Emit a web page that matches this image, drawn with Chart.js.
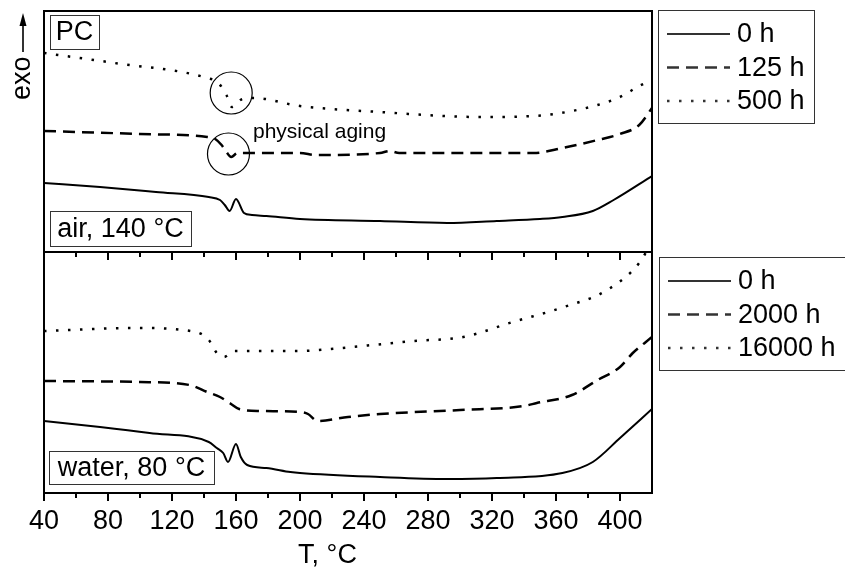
<!DOCTYPE html>
<html>
<head>
<meta charset="utf-8">
<script src="https://cdn.jsdelivr.net/npm/chart.js@4/dist/chart.umd.min.js"></script>
<style>
  html, body { margin: 0; padding: 0; background: #fff; }
</style>
</head>
<body>
<canvas id="dscChart" width="845" height="572"></canvas>
<script>
// temperature axis
var xTickValues = [40, 80, 120, 160, 200, 240, 280, 320, 360, 400];
var xMinorTicks = [60, 100, 140, 180, 220, 260, 300, 340, 380];

// air, 140 °C (heat flow, arbitrary units, exo up)
var air0T = [40, 75, 110, 143, 150, 153, 156, 160, 165, 170, 179, 200, 250, 292, 323, 350, 364, 383, 396, 420];
var air0V = [69, 65, 60, 55, 52, 47, 41, 53, 39, 37, 36, 33, 31, 29, 31, 33, 35, 41, 52, 76];
var air125T = [40, 100, 142, 147, 151, 154, 157, 161, 166, 200, 210, 250, 256, 262, 312, 346, 364, 386, 400, 412, 420];
var air125V = [121, 118, 115, 113, 107, 100, 95, 99, 99, 99, 97, 99, 101, 99, 99, 99, 104, 112, 118, 127, 144];
var air500T = [40, 84, 142, 149, 154, 157.5, 164, 171, 200, 250, 312, 354, 370, 386, 400, 412, 420];
var air500V = [199, 189, 174, 169, 157, 145, 153, 154, 146, 140, 135, 137, 141, 147, 155, 166, 172];

// water, 80 °C
var water0T = [40, 75, 106, 143, 148, 152, 155, 160, 163, 167, 179, 194, 200, 250, 292, 323, 364, 383, 400, 420];
var water0V = [72, 66, 60, 51, 45, 40, 31, 49, 36, 28, 25, 21, 20, 16, 14, 15, 20, 31, 55, 84];
var water2000T = [40, 100, 131, 142, 150, 156, 162, 175, 200, 205, 211, 230, 250, 300, 340, 348, 370, 386, 400, 408, 420];
var water2000V = [112, 111, 108, 101, 96, 90, 84, 82, 81, 79, 72, 76, 79, 83, 87, 90, 98, 113, 126, 140, 156];
var water16000T = [40, 98, 135, 143, 148, 152.5, 159, 200, 219, 271, 302, 333, 365, 392, 412.5, 420];
var water16000V = [162, 165, 161, 153, 140, 136, 142, 142, 144, 152, 156, 171, 186, 203, 231, 252];

var FONT = "'Liberation Sans', Arial, sans-serif";
var SOLID = [], DASHED = [12, 7], DOTTED = [2.5, 9.5];

function pts(t, v) {
    return t.map((x, i) => ({x: x, y: v[i]}));
}

function series(label, t, v, dash, axis, group) {
    return {
        label: label,
        data: pts(t, v),
        yAxisID: axis,
        group: group,
        borderColor: '#000',
        borderWidth: dash.length ? 2.5 : 2,
        borderDash: dash,
        pointRadius: 0,
        cubicInterpolationMode: 'monotone',
        fill: false
    };
}

function textBox(ctx, txt, l, t, r, b) {
    ctx.lineWidth = 1;
    ctx.strokeStyle = '#333';
    ctx.strokeRect(l + 0.5, t + 0.5, r - l, b - t);
    ctx.fillStyle = '#000';
    ctx.textAlign = 'center';
    ctx.textBaseline = 'middle';
    ctx.fillText(txt, (l + r) / 2, (t + b) / 2 + 1);
}

function drawLegend(chart, group, l, t, r, b) {
    var ctx = chart.ctx;
    ctx.lineWidth = 1;
    ctx.strokeStyle = '#333';
    ctx.strokeRect(l + 0.5, t + 0.5, r - l, b - t);
    var rows = chart.data.datasets.filter(d => d.group === group);
    rows.forEach((d, i) => {
        var y = t + 24 + i * 33.5;
        ctx.save();
        ctx.lineWidth = d.borderWidth;
        ctx.setLineDash(d.borderDash);
        ctx.beginPath();
        ctx.moveTo(l + 9, y);
        ctx.lineTo(l + 72, y);
        ctx.stroke();
        ctx.restore();
        ctx.fillStyle = '#000';
        ctx.textAlign = 'left';
        ctx.textBaseline = 'middle';
        ctx.fillText(d.label, l + 79, y + 1);
    });
}

var panelDecor = {
    id: 'panelDecor',
    afterDraw(chart) {
        var ctx = chart.ctx, a = chart.chartArea, x = chart.scales.x, yAir = chart.scales.yAir;
        var mid = yAir.bottom;
        ctx.save();
        ctx.strokeStyle = '#000';
        ctx.fillStyle = '#000';
        ctx.lineWidth = 2;
        ctx.strokeRect(a.left, a.top, a.right - a.left, a.bottom - a.top);
        ctx.beginPath();
        ctx.moveTo(a.left, mid);
        ctx.lineTo(a.right, mid);
        xTickValues.forEach(v => {
            var px = x.getPixelForValue(v);
            ctx.moveTo(px, mid);
            ctx.lineTo(px, mid + 8);
        });
        xMinorTicks.forEach(v => {
            var px = x.getPixelForValue(v);
            ctx.moveTo(px, mid);
            ctx.lineTo(px, mid + 5);
            ctx.moveTo(px, a.bottom);
            ctx.lineTo(px, a.bottom + 5);
        });
        ctx.stroke();

        // physical aging marks
        ctx.lineWidth = 1.2;
        ctx.beginPath();
        ctx.arc(x.getPixelForValue(157), yAir.getPixelForValue(159), 21, 0, Math.PI * 2);
        ctx.stroke();
        ctx.beginPath();
        ctx.arc(x.getPixelForValue(155.3), yAir.getPixelForValue(98), 21, 0, Math.PI * 2);
        ctx.stroke();
        ctx.font = '21px ' + FONT;
        ctx.textAlign = 'left';
        ctx.textBaseline = 'alphabetic';
        ctx.fillText('physical aging', 253, 138);

        ctx.font = '27px ' + FONT;
        textBox(ctx, 'PC', 50, 15, 99, 49);
        textBox(ctx, 'air, 140 °C', 50, 211, 191, 246);
        textBox(ctx, 'water, 80 °C', 49, 451, 214, 484);

        drawLegend(chart, 'air', 658, 10, 814, 123);
        drawLegend(chart, 'water', 659, 257, 846, 370);

        // x axis title
        ctx.fillStyle = '#000';
        ctx.textAlign = 'center';
        ctx.textBaseline = 'alphabetic';
        ctx.fillText('T, °C', 327.5, 563);

        // exo arrow
        ctx.save();
        ctx.translate(30, 100);
        ctx.rotate(-Math.PI / 2);
        ctx.textAlign = 'left';
        ctx.fillText('exo', 0, 0);
        ctx.restore();
        ctx.lineWidth = 2;
        ctx.beginPath();
        ctx.moveTo(23, 52);
        ctx.lineTo(23, 22);
        ctx.stroke();
        ctx.beginPath();
        ctx.moveTo(23, 13);
        ctx.lineTo(19.5, 26);
        ctx.lineTo(26.5, 26);
        ctx.closePath();
        ctx.fill();
        ctx.restore();
    }
};

function hiddenY() {
    return {
        type: 'linear',
        position: 'left',
        stack: 'panels',
        stackWeight: 1,
        min: 0,
        max: 241,
        ticks: {display: false},
        grid: {display: false},
        border: {display: false},
        afterFit: s => { s.width = 0; }
    };
}

window.onload = function () {
    var config = {
        type: 'line',
        data: {
            datasets: [
                series('0 h', air0T, air0V, SOLID, 'yAir', 'air'),
                series('125 h', air125T, air125V, DASHED, 'yAir', 'air'),
                series('500 h', air500T, air500V, DOTTED, 'yAir', 'air'),
                series('0 h', water0T, water0V, SOLID, 'yWater', 'water'),
                series('2000 h', water2000T, water2000V, DASHED, 'yWater', 'water'),
                series('16000 h', water16000T, water16000V, DOTTED, 'yWater', 'water')
            ]
        },
        options: {
            responsive: false,
            animation: false,
            layout: {padding: {left: 44, right: 193, top: 11, bottom: 0}},
            plugins: {legend: {display: false}, tooltip: {enabled: false}},
            scales: {
                x: {
                    type: 'linear',
                    min: 40,
                    max: 420,
                    afterBuildTicks: s => { s.ticks = xTickValues.map(v => ({value: v})); },
                    afterFit: s => { s.height = 79; },
                    grid: {drawOnChartArea: false, drawTicks: true, tickLength: 8, color: '#000', lineWidth: 2},
                    border: {display: false},
                    ticks: {font: {family: FONT, size: 27}, color: '#000', padding: 4, maxRotation: 0, autoSkip: false}
                },
                yWater: hiddenY(),
                yAir: hiddenY()
            }
        },
        plugins: [panelDecor]
    };
    var ctx = document.getElementById('dscChart').getContext('2d');
    window.dscChart = new Chart(ctx, config);
};
</script>
</body>
</html>
